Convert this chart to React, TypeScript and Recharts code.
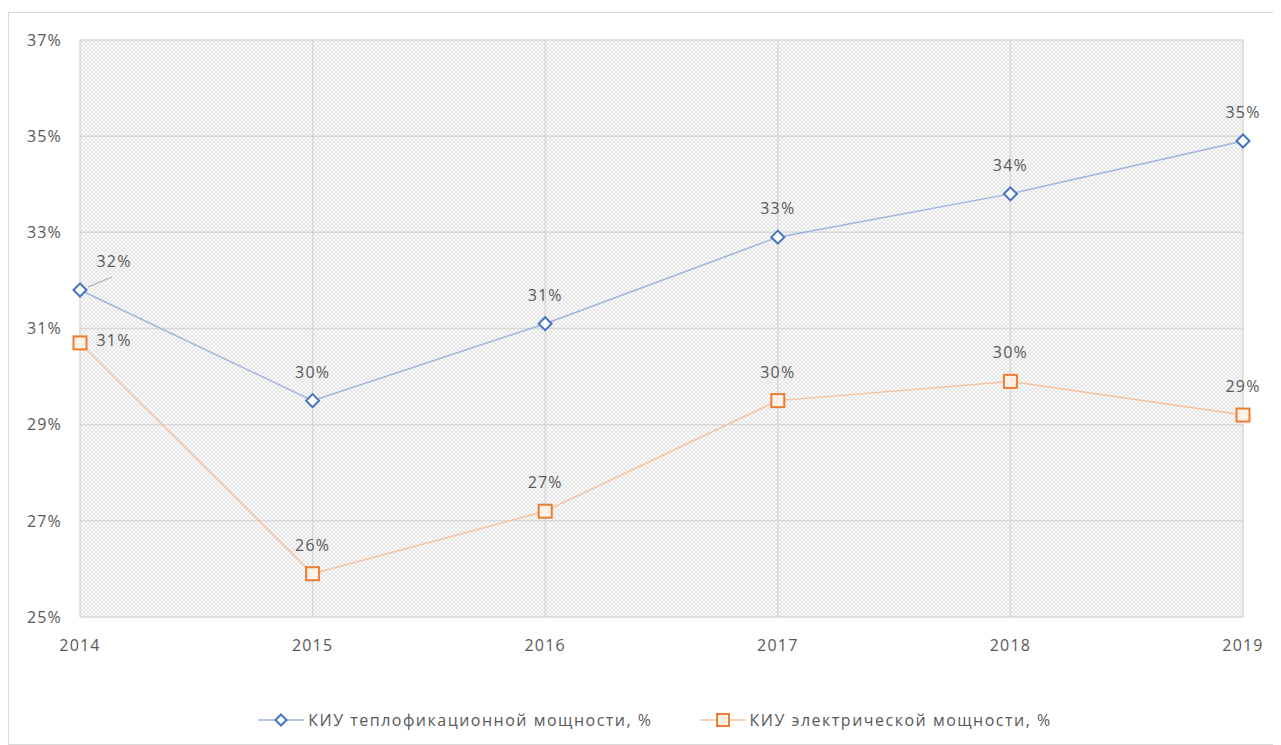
import React from 'react';
import { LineChart, Line, XAxis, YAxis, CartesianGrid, Legend, LabelList } from 'recharts';

const years = [2014, 2015, 2016, 2017, 2018, 2019];
const heatKIU = [31.8, 29.5, 31.1, 32.9, 33.8, 34.9];
const elecKIU = [30.7, 25.9, 27.2, 29.5, 29.9, 29.2];
const yTicks = [25, 27, 29, 31, 33, 35, 37];
const seriesNames = ['КИУ теплофикационной мощности, %', 'КИУ электрической мощности, %'];

const data = years.map((y, i) => ({ year: y, heat: heatKIU[i], elec: elecKIU[i] }));

const BLUE = '#4472c4';
const BLUE_LINE = '#9fb5de';
const ORANGE = '#ed7d31';
const ORANGE_LINE = '#f6c3a0';
const TEXT = '#595959';
const FONT = '"Open Sans", "Noto Sans", sans-serif';
const FS = 16;
const LS = 1.2;

const Diamond = (props: any) => {
  const { cx, cy } = props;
  if (cx == null || cy == null) return null;
  const r = 6.5;
  return <path d={`M${cx},${cy - r}L${cx + r},${cy}L${cx},${cy + r}L${cx - r},${cy}Z`} fill="#fff" stroke={BLUE} strokeWidth={2} />;
};

const Square = (props: any) => {
  const { cx, cy } = props;
  if (cx == null || cy == null) return null;
  const r = 6.5;
  return <rect x={cx - r} y={cy - r} width={2 * r} height={2 * r} fill="#fdf1e8" stroke={ORANGE} strokeWidth={2} />;
};

const pctLabel = (series: 'heat' | 'elec') => (props: any) => {
  const { x, y, value, index } = props;
  const txt = Math.round(value) + '%';
  const common = { fontSize: FS, fill: TEXT, fontFamily: FONT, letterSpacing: LS, textAnchor: 'middle' as const };
  if (index === 0) {
    if (series === 'heat') {
      return (
        <g>
          <line x1={x + 8} y1={y - 3} x2={x + 32} y2={y - 13} stroke="#a6a6a6" strokeWidth={1} />
          <text x={x + 34} y={y - 23} {...common}>{txt}</text>
        </g>
      );
    }
    return <text x={x + 34} y={y + 3} {...common}>{txt}</text>;
  }
  return <text x={x} y={y - 23} {...common}>{txt}</text>;
};

const LegendContent = () => (
  <div style={{ display: 'flex', justifyContent: 'center', gap: 46, fontFamily: FONT, fontSize: 16, letterSpacing: 1.5, color: TEXT, paddingLeft: 46 }}>
    <div style={{ display: 'flex', alignItems: 'center' }}>
      <svg width={48} height={16}>
        <line x1={1} y1={8} x2={47} y2={8} stroke={BLUE_LINE} strokeWidth={1.5} />
        <path d="M24,2.5L29.5,8L24,13.5L18.5,8Z" fill="#fff" stroke={BLUE} strokeWidth={2} />
      </svg>
      <span style={{ marginLeft: 3 }}>{seriesNames[0]}</span>
    </div>
    <div style={{ display: 'flex', alignItems: 'center' }}>
      <svg width={48} height={16}>
        <line x1={1} y1={8} x2={47} y2={8} stroke={ORANGE_LINE} strokeWidth={1.5} />
        <rect x={18} y={2} width={12} height={12} fill="#fdf1e8" stroke={ORANGE} strokeWidth={2} />
      </svg>
      <span style={{ marginLeft: 3 }}>{seriesNames[1]}</span>
    </div>
  </div>
);

export default function App() {
  return (
    <div style={{ marginTop: 4, width: 1272, height: 731, border: '1px solid #d9d9d9', background: '#fff', position: 'relative' }}>
      <svg width={0} height={0} style={{ position: 'absolute' }}>
        <defs>
          <pattern id="hatch" width={4} height={4} patternUnits="userSpaceOnUse">
            <rect width={4} height={4} fill="#f9f9f9" />
            <rect x={0} y={0} width={2} height={2} fill="#e6e6e6" />
            <rect x={2} y={2} width={2} height={2} fill="#e6e6e6" />
          </pattern>
        </defs>
      </svg>
      <LineChart width={1272} height={731} data={data} margin={{ top: 27, right: 38, left: 11, bottom: 5 }}>
        <CartesianGrid stroke="#d9d9d9" strokeWidth={1.5} fill="url(#hatch)" fillOpacity={1} horizontalValues={yTicks} verticalValues={years} />
        <XAxis
          dataKey="year"
          type="number"
          domain={[2014, 2019]}
          ticks={years}
          axisLine={false}
          tickLine={false}
          tickMargin={17}
          height={92}
          tick={{ fill: TEXT, fontSize: FS, fontFamily: FONT, letterSpacing: LS }}
        />
        <YAxis
          type="number"
          domain={[25, 37]}
          ticks={yTicks}
          axisLine={false}
          tickLine={false}
          tickMargin={12}
          width={60}
          tickFormatter={(v: number) => v + '%'}
          tick={{ fill: TEXT, fontSize: FS, fontFamily: FONT, letterSpacing: LS }}
        />
        <Legend verticalAlign="bottom" height={30} content={<LegendContent />} />
        <Line dataKey="heat" name={seriesNames[0]} stroke={BLUE_LINE} strokeWidth={1.5} dot={<Diamond />} activeDot={false} isAnimationActive={false}>
          <LabelList dataKey="heat" content={pctLabel('heat')} />
        </Line>
        <Line dataKey="elec" name={seriesNames[1]} stroke={ORANGE_LINE} strokeWidth={1.5} dot={<Square />} activeDot={false} isAnimationActive={false}>
          <LabelList dataKey="elec" content={pctLabel('elec')} />
        </Line>
      </LineChart>
    </div>
  );
}
